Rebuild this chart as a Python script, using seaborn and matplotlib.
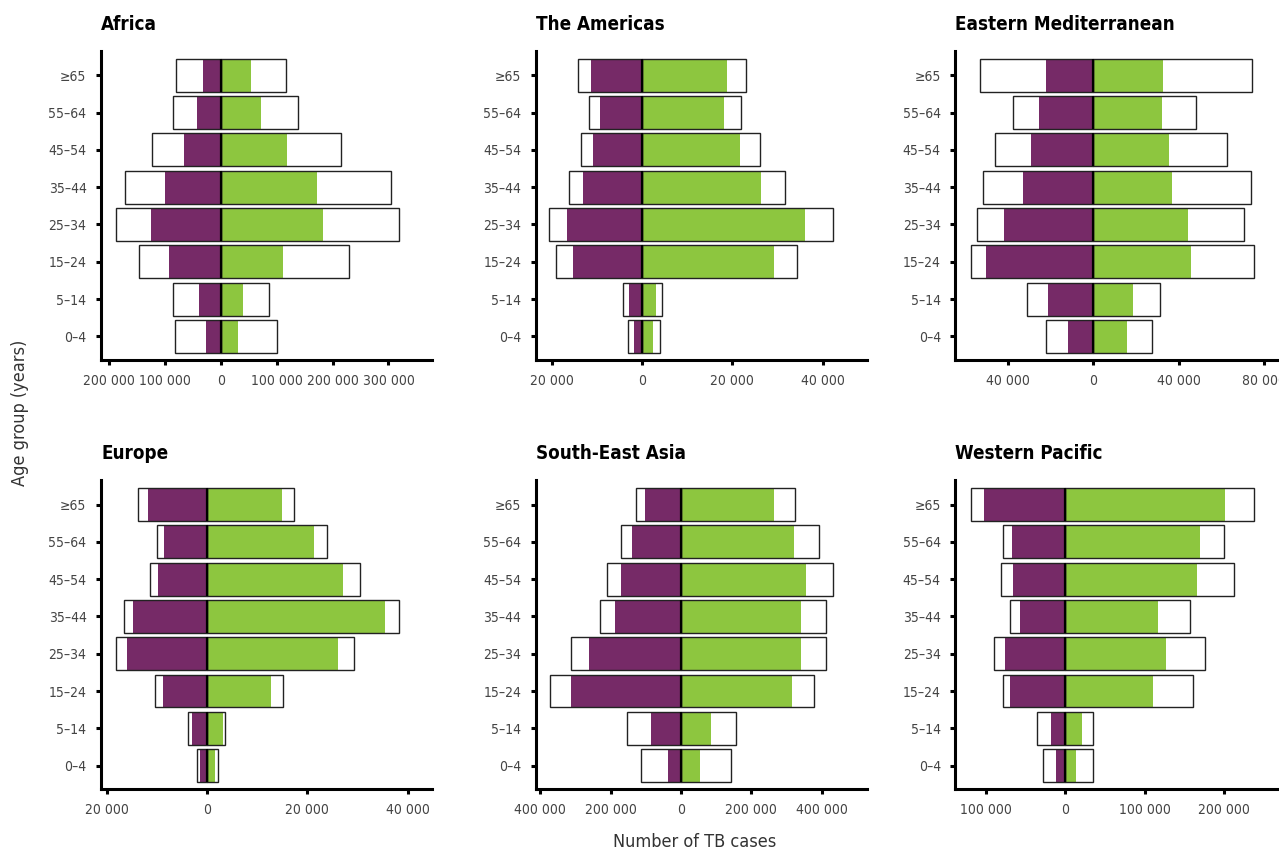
import os
import numpy as np
import pandas as pd
import seaborn as sns
import matplotlib.pyplot as plt
import matplotlib.font_manager as fm

sns.set_style('white')
plt.rcParams['font.family'] = ['DejaVu Sans']

# age groups, top to bottom
ages = ['≥65', '55–64', '45–54', '35–44', '25–34', '15–24', '5–14', '0–4']

regions = ['Africa', 'The Americas', 'Eastern Mediterranean',
           'Europe', 'South-East Asia', 'Western Pacific']

# notified cases (coloured bars) and estimated incidence (outlined boxes)
afr_f_notif = [32800, 41800, 65700, 99700, 124800, 92500, 38800, 26300]
afr_m_notif = [53700, 71600, 118200, 171900, 182700, 111600, 39400, 30400]
afr_f_est = [80600, 84800, 123000, 170700, 188000, 145700, 86000, 82400]
afr_m_est = [115800, 137300, 214300, 303900, 318800, 229900, 86600, 100300]

amr_f_notif = [11400, 9400, 11000, 13200, 16700, 15400, 3000, 1850]
amr_m_notif = [18700, 18100, 21600, 26300, 36100, 29200, 3000, 2300]
amr_f_est = [14200, 11900, 13700, 16300, 20600, 19100, 4300, 3100]
amr_m_est = [23100, 22000, 26100, 31600, 42400, 34300, 4400, 4000]

emr_f_notif = [22100, 25400, 29600, 32900, 41900, 50400, 21600, 12200]
emr_m_notif = [32800, 32300, 35600, 36700, 44500, 46000, 18700, 15800]
emr_f_est = [53500, 37600, 46300, 52100, 54700, 57700, 31100, 22400]
emr_m_est = [74500, 48200, 62600, 74200, 70700, 75400, 31100, 27300]

eur_f_notif = [11800, 8600, 9800, 14700, 15900, 8800, 3000, 1460]
eur_m_notif = [14900, 21300, 27200, 35500, 26200, 12800, 3200, 1600]
eur_f_est = [13700, 10000, 11400, 16500, 18200, 10400, 3800, 1900]
eur_m_est = [17300, 24000, 30400, 38200, 29200, 15100, 3650, 2260]

sea_f_notif = [102400, 139300, 170600, 187700, 261600, 312800, 85300, 37000]
sea_m_notif = [263500, 320400, 354500, 341200, 341200, 315600, 85300, 54000]
sea_f_est = [127000, 171600, 210400, 230300, 312800, 371600, 154500, 113700]
sea_m_est = [325100, 391500, 433200, 411400, 412300, 378200, 157300, 141200]

wpr_f_notif = [102500, 67100, 65800, 57000, 75900, 69600, 17700, 11400]
wpr_m_notif = [202100, 169600, 166700, 117300, 127400, 111000, 21100, 13500]
wpr_f_est = [119800, 79300, 81900, 70000, 89900, 79300, 35400, 28300]
wpr_m_est = [238400, 200800, 213100, 157400, 176800, 161600, 35400, 34600]

# x ticks per panel
afr_ticks = [-200000, -100000, 0, 100000, 200000, 300000]
amr_ticks = [-20000, 0, 20000, 40000]
emr_ticks = [-40000, 0, 40000, 80000]
eur_ticks = [-20000, 0, 20000, 40000]
sea_ticks = [-400000, -200000, 0, 200000, 400000]
wpr_ticks = [-100000, 0, 100000, 200000]

panels = [
    (afr_f_notif, afr_m_notif, afr_f_est, afr_m_est, afr_ticks, (-214400, 378500)),
    (amr_f_notif, amr_m_notif, amr_f_est, amr_m_est, amr_ticks, (-23600, 49900)),
    (emr_f_notif, emr_m_notif, emr_f_est, emr_m_est, emr_ticks, (-64900, 90800)),
    (eur_f_notif, eur_m_notif, eur_f_est, eur_m_est, eur_ticks, (-21100, 44900)),
    (sea_f_notif, sea_m_notif, sea_f_est, sea_m_est, sea_ticks, (-412000, 529000)),
    (wpr_f_notif, wpr_m_notif, wpr_f_est, wpr_m_est, wpr_ticks, (-139000, 279700)),
]

purple = '#762a67'
green = '#8dc63f'
grey = '#444444'


# the original uses a condensed face - look for one, else fall back to Roboto
def pick_font(keys, bold):
    skip = ['italic', 'oblique', 'light', 'semi', 'extra', 'medium', 'black', 'thin', 'mono']
    for f in sorted(fm.fontManager.ttflist, key=lambda f: f.fname):
        b = os.path.basename(f.fname).lower()
        if not any(k in b for k in keys) or any(s in b for s in skip):
            continue
        if ('bold' in b) == bold:
            return f.fname
    return None


reg_file = pick_font(['condensed', 'narrow'], False)
bold_file = pick_font(['condensed', 'narrow'], True)
if reg_file:
    tick_fp = fm.FontProperties(fname=reg_file, size=10)
    label_fp = fm.FontProperties(fname=reg_file, size=13)
else:
    tick_fp = fm.FontProperties(family='Roboto', size=9.5)
    label_fp = fm.FontProperties(family='Roboto', size=12)
if bold_file:
    title_fp = fm.FontProperties(fname=bold_file, size=13.5)
else:
    title_fp = fm.FontProperties(family='Roboto', weight='bold', size=13)

fig = plt.figure(figsize=(12.79, 8.5), dpi=100)

col_x = [0.079, 0.419, 0.747]
row_y = [0.577, 0.072]
w, h = 0.259, 0.363

for i, (name, (f_n, m_n, f_e, m_e, ticks, xlim)) in enumerate(zip(regions, panels)):
    ax = fig.add_axes([col_x[i % 3], row_y[i // 3], w, h])

    df = pd.DataFrame({'age': ages,
                       'f_notif': -np.array(f_n), 'm_notif': m_n,
                       'f_est': -np.array(f_e), 'm_est': m_e})

    # coloured bars first, outlined boxes on top
    sns.barplot(data=df, x='f_notif', y='age', orient='h', order=ages, color=purple,
                saturation=1, width=0.88, errorbar=None, linewidth=0, ax=ax)
    sns.barplot(data=df, x='m_notif', y='age', orient='h', order=ages, color=green,
                saturation=1, width=0.88, errorbar=None, linewidth=0, ax=ax)
    sns.barplot(data=df, x='f_est', y='age', orient='h', order=ages, color='#222222',
                fill=False, width=0.88, errorbar=None, linewidth=1.0, ax=ax)
    sns.barplot(data=df, x='m_est', y='age', orient='h', order=ages, color='#222222',
                fill=False, width=0.88, errorbar=None, linewidth=1.0, ax=ax)

    # zero line through each bar
    ypos = np.arange(len(ages))
    ax.vlines(np.zeros(len(ages)), ypos - 0.44, ypos + 0.44, color='black',
              linewidth=1.6, zorder=5)

    ax.set_xlim(*xlim)
    ax.set_ylim(len(ages) - 0.38, -0.65)
    ax.set_xticks(ticks)
    ax.set_xticklabels([f'{abs(t):,}'.replace(',', ' ') for t in ticks])
    ax.set_xlabel('')
    ax.set_ylabel('')

    sns.despine(ax=ax)
    for s in ['left', 'bottom']:
        ax.spines[s].set_linewidth(2.2)
        ax.spines[s].set_color('black')
    ax.tick_params(axis='both', which='major', length=3.5, width=2.2, color='black',
                   labelcolor=grey, direction='out')
    ax.tick_params(axis='y', pad=7)
    ax.tick_params(axis='x', pad=7)
    ax.tick_params(left=True, bottom=True)
    for lbl in ax.get_xticklabels() + ax.get_yticklabels():
        lbl.set_fontproperties(tick_fp)

    ax.set_title(name, loc='left', fontproperties=title_fp, pad=15, color='black')

fig.text(0.0156, 0.514, 'Age group (years)', rotation=90, ha='center', va='center',
         fontproperties=label_fp, color='#333333')
fig.text(0.543, 0.004, 'Number of TB cases', ha='center', va='baseline',
         fontproperties=label_fp, color='#333333')

fig.savefig('out.png', dpi=100)
